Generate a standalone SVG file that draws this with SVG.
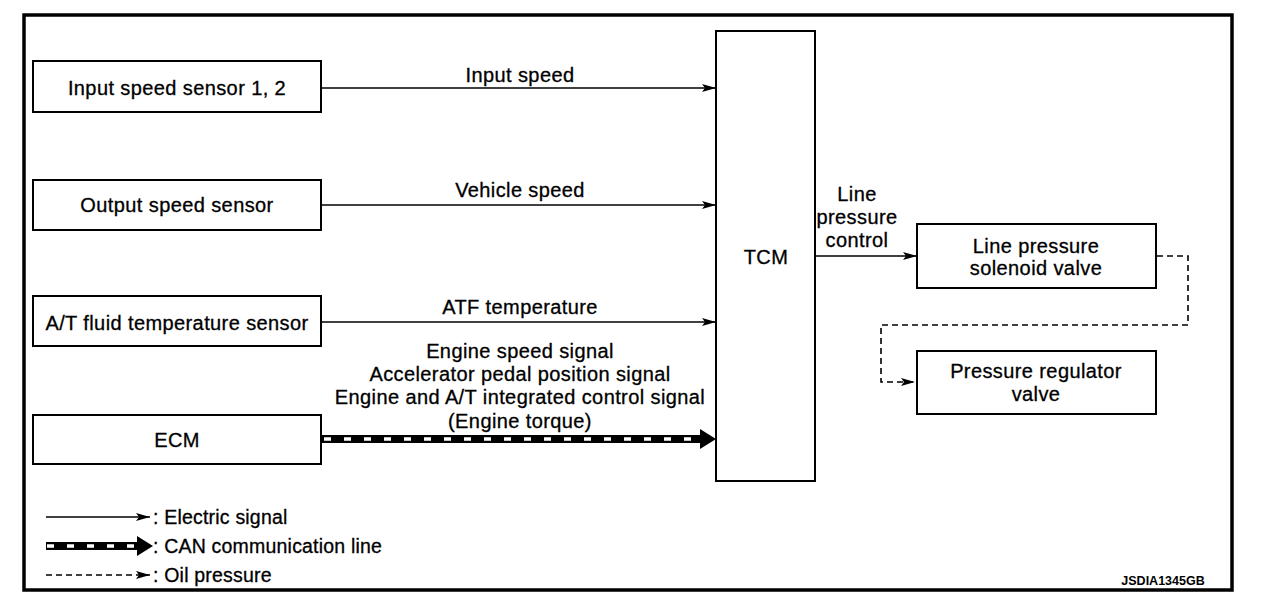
<svg xmlns="http://www.w3.org/2000/svg" width="1264" height="606" viewBox="0 0 1264 606">
<style>
text{font-family:"Liberation Sans",Arial,sans-serif;font-size:20px;letter-spacing:0.4px;fill:#000;stroke:#000;stroke-width:0.3;text-anchor:middle}
.box{fill:#fff;stroke:#000;stroke-width:2}
.el{stroke:#000;stroke-width:1.6;fill:none}
.oil{stroke:#000;stroke-width:1.6;fill:none;stroke-dasharray:6 4}
.lg{text-anchor:start;font-size:19.5px;letter-spacing:0.2px}
</style>
<defs>
<marker id="ah" viewBox="0 0 14 8" refX="14" refY="4" markerWidth="14" markerHeight="8" markerUnits="userSpaceOnUse" orient="auto">
<path d="M0,0 L14,4 L0,8 L3,4 Z" fill="#000"/>
</marker>
</defs>
<rect x="24" y="15" width="1208" height="575" fill="#fff" stroke="#000" stroke-width="3.5"/>
<g id="input-speed-sensor"><rect class="box" x="33" y="61" width="288" height="51"/><text x="177" y="95">Input speed sensor 1, 2</text></g>
<g id="output-speed-sensor"><rect class="box" x="33" y="180" width="288" height="50"/><text x="177" y="212">Output speed sensor</text></g>
<g id="atf-temp-sensor"><rect class="box" x="33" y="296" width="288" height="50"/><text x="177" y="330">A/T fluid temperature sensor</text></g>
<g id="ecm"><rect class="box" x="33" y="415" width="288" height="49"/><text x="177" y="447">ECM</text></g>
<g id="tcm"><rect class="box" x="716" y="31" width="99" height="450"/><text x="766" y="264">TCM</text></g>
<g id="lpsv"><rect class="box" x="917" y="224" width="239" height="64"/><text x="1036" y="253">Line pressure</text><text x="1036" y="275">solenoid valve</text></g>
<g id="prv"><rect class="box" x="917" y="351" width="239" height="63"/><text x="1036" y="378">Pressure regulator</text><text x="1036" y="401">valve</text></g>
<g id="connectors">
<line class="el" x1="322" y1="88" x2="716" y2="88" marker-end="url(#ah)"/>
<line class="el" x1="322" y1="205" x2="716" y2="205" marker-end="url(#ah)"/>
<line class="el" x1="322" y1="322" x2="716" y2="322" marker-end="url(#ah)"/>
<line x1="322" y1="439" x2="702" y2="439" stroke="#000" stroke-width="8"/>
<line x1="324" y1="439" x2="700" y2="439" stroke="#fff" stroke-width="3.5" stroke-dasharray="7 13"/>
<path d="M700,429 L716,439 L700,449 Z" fill="#000"/>
<line class="el" x1="815" y1="256" x2="917" y2="256" marker-end="url(#ah)"/>
<path class="oil" d="M1157,256 H1188 V325 H881 V382 H915" marker-end="url(#ah)"/>
<text x="520" y="82">Input speed</text>
<text x="520" y="197">Vehicle speed</text>
<text x="520" y="314">ATF temperature</text>
<text x="520" y="358">Engine speed signal</text>
<text x="520" y="381">Accelerator pedal position signal</text>
<text x="520" y="404">Engine and A/T integrated control signal</text>
<text x="520" y="428">(Engine torque)</text>
<text x="857" y="201">Line</text>
<text x="857" y="224">pressure</text>
<text x="857" y="247">control</text>
</g>
<g id="legend">
<line class="el" x1="46" y1="517" x2="150" y2="517" marker-end="url(#ah)"/>
<text class="lg" x="153" y="524">: Electric signal</text>
<line x1="46" y1="546" x2="140" y2="546" stroke="#000" stroke-width="8"/>
<line x1="47" y1="546" x2="138" y2="546" stroke="#fff" stroke-width="3.5" stroke-dasharray="7 13"/>
<path d="M137,536 L153,546 L137,556 Z" fill="#000"/>
<text class="lg" x="153" y="553">: CAN communication line</text>
<line class="oil" x1="46" y1="575" x2="150" y2="575" marker-end="url(#ah)"/>
<text class="lg" x="153" y="582">: Oil pressure</text>
</g>
<text x="1163" y="585" style="font-size:12.5px;font-weight:bold;letter-spacing:0;stroke-width:0">JSDIA1345GB</text>
</svg>
